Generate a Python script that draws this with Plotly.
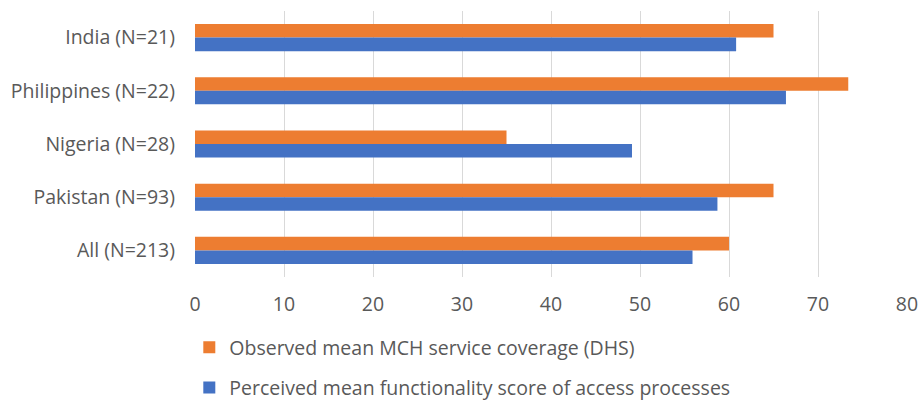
import plotly.graph_objects as go

# Countries, listed top to bottom
categories = ["India (N=21)", "Philippines (N=22)", "Nigeria (N=28)", "Pakistan (N=93)", "All (N=213)"]

# Observed mean MCH service coverage (DHS)
observed = [65.0, 73.4, 35.0, 65.0, 60.0]
# Perceived mean functionality score of access processes
perceived = [60.8, 66.4, 49.1, 58.7, 55.9]

x_ticks = [0, 10, 20, 30, 40, 50, 60, 70, 80]

TEXT = "#595959"
GRID = "#d9d9d9"
FONT = "Open Sans"
SIZE = 19.5

fig = go.Figure()
fig.add_trace(go.Bar(
    y=categories, x=observed, orientation="h",
    name="Observed mean MCH service coverage (DHS)",
    marker=dict(color="#ED7D31", line=dict(width=0)),
    legendgroup="a",
))
fig.add_trace(go.Bar(
    y=categories, x=perceived, orientation="h",
    name="Perceived mean functionality score of access processes",
    marker=dict(color="#4472C4", line=dict(width=0)),
    legendgroup="b",
))

fig.update_layout(
    width=919, height=400,
    margin=dict(l=195, r=12, t=11, b=123, autoexpand=False),
    barmode="group", bargap=0.49, bargroupgap=0,
    plot_bgcolor="white", paper_bgcolor="white",
    font=dict(family=FONT, size=SIZE, color=TEXT),
    xaxis=dict(
        range=[0, 80], tickvals=x_ticks, showgrid=True, gridcolor=GRID, gridwidth=1.3,
        zeroline=False, showline=False, ticks="", ticklabelstandoff=13,
        tickfont=dict(family=FONT, size=SIZE, color=TEXT), automargin=False,
    ),
    yaxis=dict(
        autorange="reversed", showgrid=False, zeroline=False, showline=False,
        ticks="", ticklabelstandoff=19, automargin=False,
        tickfont=dict(family=FONT, size=SIZE, color=TEXT),
    ),
    legend=dict(
        orientation="v", x=-0.008, xanchor="left",
        yref="container", y=0.18, yanchor="top",
        font=dict(family=FONT, size=SIZE, color=TEXT),
        tracegroupgap=12, traceorder="grouped", bgcolor="rgba(0,0,0,0)",
    ),
    showlegend=True,
)

fig.write_html("out.html")
